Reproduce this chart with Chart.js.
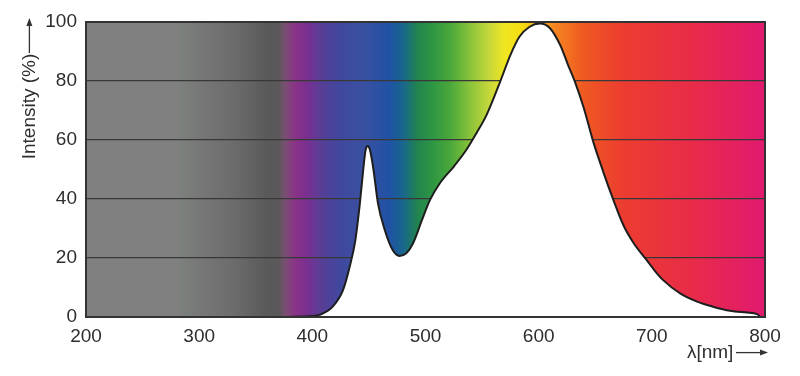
<!DOCTYPE html>
<html>
<head>
<meta charset="utf-8">
<script src="https://cdn.jsdelivr.net/npm/chart.js@4"></script>
<style>
  html, body { margin: 0; padding: 0; background: #fff; }
  #wrap { width: 800px; height: 376px; }
</style>
</head>
<body>
<div id="wrap"><canvas id="spectrum"></canvas></div>
<script>
// LED emission spectrum
const wavelengths = [378, 400, 407, 418, 427, 433, 438, 442, 445, 447, 449, 451, 454, 458, 464, 471, 477, 483, 489, 497, 504, 513, 525, 536, 545, 554, 566, 575, 583, 592, 601, 610, 619, 626, 632, 640, 648, 657, 666, 675, 684, 695, 703, 710, 725, 740, 754, 769, 784, 793, 796];
const intensity = [0, 0.3, 0.8, 3.5, 9, 17, 26, 38.5, 50, 56.5, 58, 56.5, 50, 38.5, 29.5, 22.7, 20.7, 21.6, 25, 33, 39.7, 45.5, 51, 56.6, 62.3, 68.5, 79.8, 88.8, 95, 98.4, 99.5, 97.9, 92.2, 85.4, 79.8, 70.7, 59.7, 49.3, 39.7, 31, 25, 19.5, 15.5, 12.5, 8, 5.2, 3.5, 2.1, 1.5, 1.0, 0];

const xTicks = [200, 300, 400, 500, 600, 700, 800];
const yTicks = [0, 20, 40, 60, 80, 100];

// colour of the background band at a given wavelength
const bandStops = [
  [200, "#808080"], [280, "#808080"], [285, "#7b807c"], [300, "#777877"],
  [332, "#6b6b6b"], [359, "#5a5a5a"], [370, "#5a585a"], [376, "#7a4f72"],
  [385, "#8a3388"], [395, "#7a2f90"], [407, "#5a3d95"], [424, "#40489e"],
  [445, "#3a50a0"], [468, "#2052a5"], [480, "#18668e"], [493, "#22844f"],
  [505, "#2c9444"], [522, "#4aa83a"], [540, "#8cc43a"], [557, "#c8d83a"],
  [570, "#f0e620"], [586, "#f6dc12"], [600, "#f7b01e"], [615, "#f58420"],
  [639, "#ef5a22"], [675, "#ec3c30"], [734, "#e82c48"], [800, "#e01a70"]
];

function arrow(ctx, x0, y0, x1, y1) {
  const a = Math.atan2(y1 - y0, x1 - x0);
  ctx.beginPath();
  ctx.moveTo(x0, y0);
  ctx.lineTo(x1 - 6 * Math.cos(a), y1 - 6 * Math.sin(a));
  ctx.stroke();
  ctx.beginPath();
  ctx.moveTo(x1, y1);
  ctx.lineTo(x1 - 8 * Math.cos(a) + 3 * Math.sin(a), y1 - 8 * Math.sin(a) - 3 * Math.cos(a));
  ctx.lineTo(x1 - 8 * Math.cos(a) - 3 * Math.sin(a), y1 - 8 * Math.sin(a) + 3 * Math.cos(a));
  ctx.closePath();
  ctx.fill();
}

const spectrumBackground = {
  id: "spectrumBackground",
  beforeDraw(chart) {
    const { ctx, chartArea: a, scales: { x } } = chart;
    const g = ctx.createLinearGradient(a.left, 0, a.right, 0);
    bandStops.forEach(([nm, c]) => {
      g.addColorStop((x.getPixelForValue(nm) - a.left) / (a.right - a.left), c);
    });
    ctx.save();
    ctx.fillStyle = g;
    ctx.fillRect(a.left, a.top, a.right - a.left, a.bottom - a.top);
    ctx.restore();
  },
  afterDraw(chart) {
    const { ctx, chartArea: a, scales: { x, y } } = chart;
    ctx.save();
    ctx.strokeStyle = "#333";
    ctx.lineWidth = 2;
    ctx.strokeRect(a.left, a.top, a.right - a.left, a.bottom - a.top);
    // the arrows after the axis titles
    ctx.strokeStyle = "#333";
    ctx.fillStyle = "#333";
    ctx.lineWidth = 1.3;
    const ax = y.left + 18 + font.size * 0.6;
    arrow(ctx, ax, y.top + 31, ax, y.top - 4);
    const ay = x.bottom - 12 - font.size * 0.6;
    arrow(ctx, x.right - 29, ay, x.right + 3, ay);
    ctx.restore();
  }
};

const font = { family: "'Liberation Sans', Arial, sans-serif", size: 19 };

new Chart(document.getElementById("spectrum"), {
  type: "line",
  data: {
    datasets: [{
      data: wavelengths.map((nm, i) => ({ x: nm, y: intensity[i] })),
      borderColor: "#1e1e1e",
      borderWidth: 2,
      backgroundColor: "#ffffff",
      fill: "origin",
      pointRadius: 0,
      cubicInterpolationMode: "monotone"
    }]
  },
  options: {
    responsive: true,
    maintainAspectRatio: false,
    animation: false,
    layout: { padding: { top: 22, right: 35, left: 0, bottom: 0 } },
    plugins: { legend: { display: false }, tooltip: { enabled: false } },
    scales: {
      x: {
        type: "linear",
        min: 200,
        max: 800,
        afterBuildTicks: (s) => { s.ticks = xTicks.map(v => ({ value: v })); },
        afterFit: (s) => { s.height = 59; },
        grid: { display: false, drawTicks: false },
        border: { display: false },
        ticks: { color: "#2e2e2e", font, padding: 8, maxRotation: 0 },
        title: {
          display: true,
          text: "λ[nm]" + " ".repeat(6),
          align: "end",
          color: "#2e2e2e",
          font,
          padding: { top: 0, bottom: 12 }
        }
      },
      y: {
        min: 0,
        max: 100,
        afterBuildTicks: (s) => { s.ticks = yTicks.map(v => ({ value: v })); },
        afterFit: (s) => { s.width = 86; },
        grid: { color: "#383838", lineWidth: 1.2, drawTicks: false },
        border: { display: false },
        ticks: { color: "#2e2e2e", font, padding: 9 },
        title: {
          display: true,
          text: "Intensity (%)" + " ".repeat(6),
          align: "end",
          color: "#2e2e2e",
          font,
          padding: { top: 18, bottom: 0 }
        }
      }
    }
  },
  plugins: [spectrumBackground]
});
</script>
</body>
</html>
